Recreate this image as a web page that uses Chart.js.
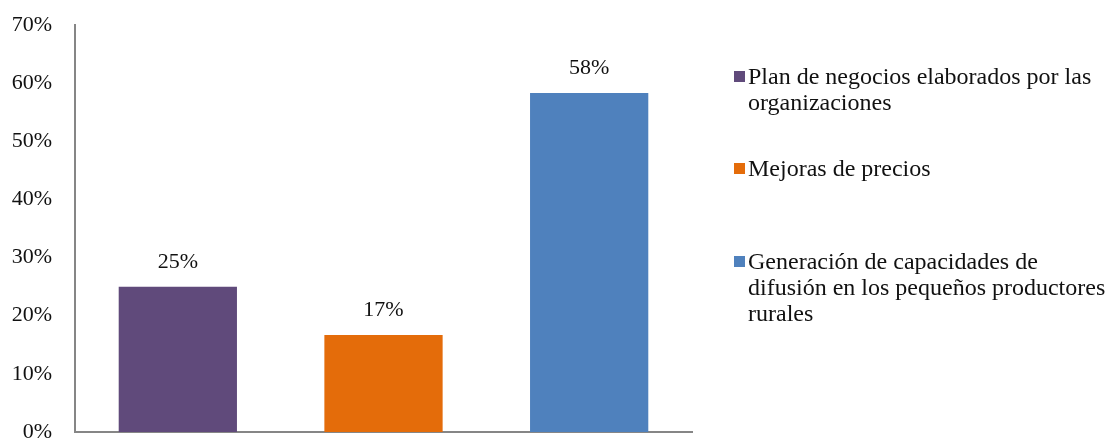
<!DOCTYPE html>
<html>
<head>
<meta charset="utf-8">
<script src="https://cdn.jsdelivr.net/npm/chart.js@4"></script>
<style>
    html, body { margin: 0; padding: 0; background: #fff; }
    #wrap { position: relative; width: 1109px; height: 440px; }
    #legend {
        position: absolute; left: 734px; top: 63px; width: 375px;
        font-family: "Liberation Serif", "Times New Roman", serif;
        font-size: 24px; line-height: 26px; color: #111;
    }
    .item { position: absolute; left: 0; padding-left: 14px; white-space: nowrap; }
    .box { position: absolute; left: 0; top: 8px; width: 11px; height: 11px; }
</style>
</head>
<body>
<div id="wrap">
    <canvas id="chart" width="1109" height="440"></canvas>
    <div id="legend"></div>
</div>
<script>
const categories = [
    "Plan de negocios elaborados por las organizaciones",
    "Mejoras de precios",
    "Generación de capacidades de difusión en los pequeños productores rurales"
];
const legendLines = [
    ["Plan de negocios elaborados por las", "organizaciones"],
    ["Mejoras de precios"],
    ["Generación de capacidades de", "difusión en los pequeños productores", "rurales"]
];
const values = [25, 16.7, 58.3];
const valueLabels = ["25%", "17%", "58%"];
const colors = ["#604A7B", "#E46C0A", "#4F81BD"];
const yTicks = [0, 10, 20, 30, 40, 50, 60, 70];

const legendEl = document.getElementById("legend");
const legendTops = [0, 92, 185];
legendLines.forEach((lines, i) => {
    const div = document.createElement("div");
    div.className = "item";
    div.style.top = legendTops[i] + "px";
    div.innerHTML = '<span class="box" style="background:' + colors[i] + '"></span>' + lines.join("<br>");
    legendEl.appendChild(div);
});

const valueLabelPlugin = {
    id: "valueLabels",
    afterDatasetsDraw(chart) {
        const ctx = chart.ctx;
        const meta = chart.getDatasetMeta(0);
        ctx.save();
        ctx.font = '22px "Liberation Serif", serif';
        ctx.fillStyle = "#111";
        ctx.textAlign = "center";
        ctx.textBaseline = "alphabetic";
        meta.data.forEach((bar, i) => {
            ctx.fillText(valueLabels[i], bar.x, bar.y - 19);
        });
        ctx.restore();
    }
};

new Chart(document.getElementById("chart"), {
    type: "bar",
    data: {
        labels: categories,
        datasets: [{
            data: values,
            backgroundColor: colors,
            categoryPercentage: 1,
            barPercentage: 0.575
        }]
    },
    options: {
        responsive: false,
        animation: false,
        layout: { padding: { top: 25, right: 417, bottom: 8, left: 0 } },
        plugins: { legend: { display: false }, tooltip: { enabled: false } },
        scales: {
            x: {
                afterFit: (scale) => {
                    scale.height = 0;
                    scale.paddingLeft = 0;
                    scale.paddingRight = 0;
                },
                grid: { display: false, drawTicks: false },
                border: { display: true, color: "#868686", width: 2 },
                ticks: { display: false }
            },
            y: {
                min: 0,
                max: 70,
                afterBuildTicks: (scale) => { scale.ticks = yTicks.map(v => ({ value: v })); },
                afterFit: (scale) => {
                    scale.width = 75;
                    scale.paddingTop = 0;
                    scale.paddingBottom = 0;
                },
                grid: { display: false, drawTicks: false },
                border: { display: true, color: "#868686", width: 2 },
                ticks: {
                    padding: 23,
                    color: "#111",
                    font: { family: '"Liberation Serif", serif', size: 22 },
                    callback: (v) => v + "%"
                }
            }
        }
    },
    plugins: [valueLabelPlugin]
});
</script>
</body>
</html>
